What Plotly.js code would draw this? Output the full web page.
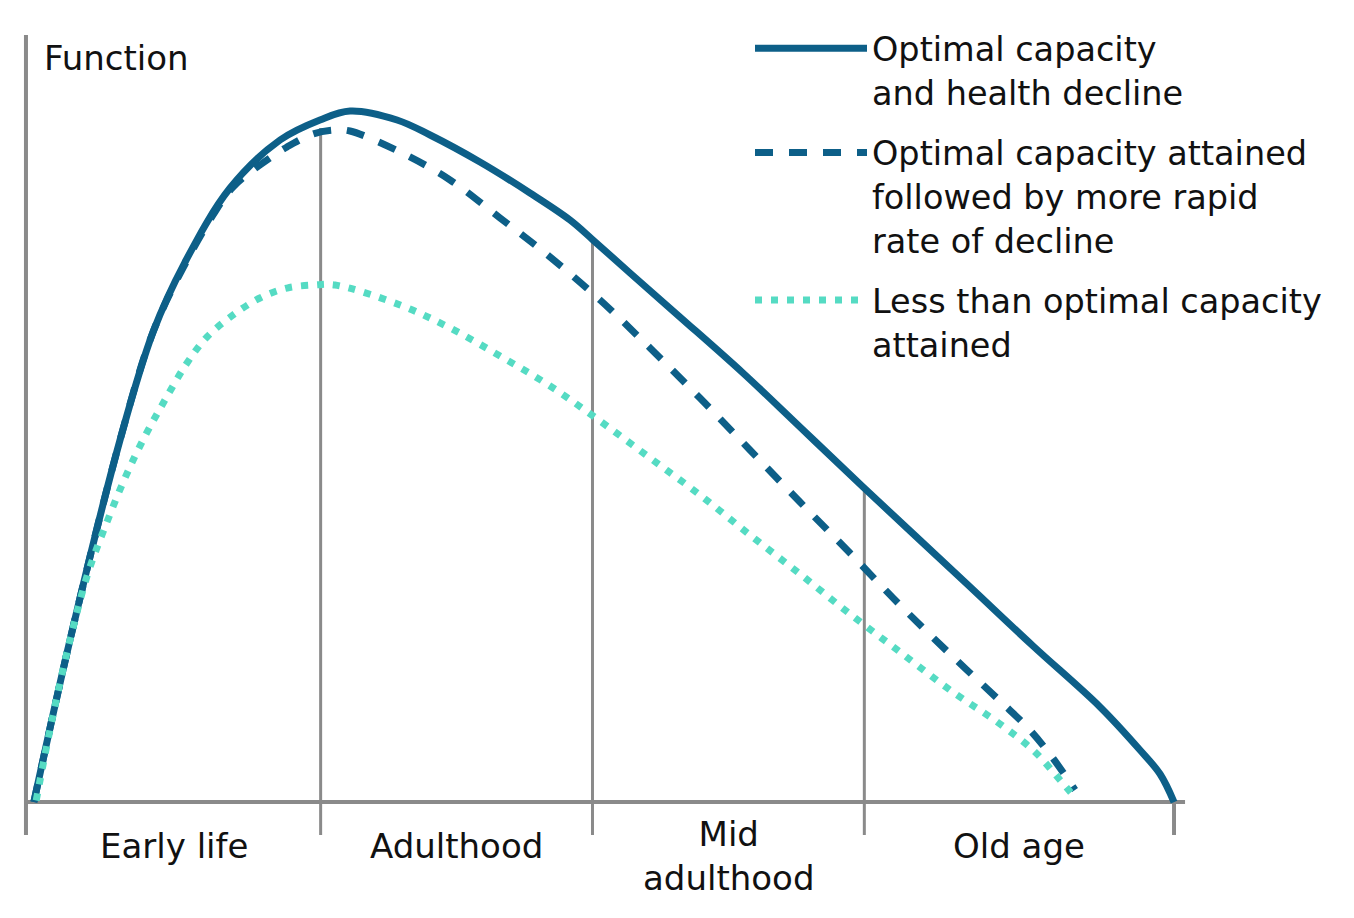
<!DOCTYPE html>
<html>
<head>
<meta charset="utf-8">
<script src="https://cdn.plot.ly/plotly-3.0.1.min.js"></script>
<style>
  html, body { margin: 0; padding: 0; background: #ffffff; }
  #chart { width: 1354px; height: 918px; }
</style>
</head>
<body>
<div id="chart"></div>
<script>
// ---- Data (life course on a 0–100 scale, function on a 0–100 scale) ----
var stageBoundaries = [0, 25.6, 49.3, 73.0, 100];
var stageLabels = ["Early life", "Adulthood", "Mid<br>adulthood", "Old age"];

var seriesNames = [
  "Optimal capacity<br>and health decline",
  "Optimal capacity attained<br>followed by more rapid<br>rate of decline",
  "Less than optimal capacity<br>attained"
];

var optimalX = [0.6, 3.75, 8.11, 10.99, 13.78, 17.70, 22.06, 25.54, 28.16, 32.26, 35.14, 39.49, 43.85, 47.34, 49.35,
  52.57, 56.93, 62.42, 67.39, 72.89, 81.95, 87.71, 93.55, 97.03, 98.78, 100];
var optimalY = [0, 21.12, 47.20, 61.28, 70.40, 80.05, 86.31, 88.92, 90.09, 88.92, 86.96, 83.44, 79.40, 75.88, 73.27,
  68.97, 63.23, 55.93, 48.89, 41.07, 28.42, 20.34, 12.39, 6.78, 3.65, 0];

var rapidX = [0.6, 3.75, 8.11, 10.99, 13.78, 16.22, 17.96, 20.31, 22.67, 24.93, 26.85, 28.16, 32.52, 36.88, 41.24,
  45.60, 49.96, 54.32, 58.67, 63.03, 67.39, 71.75, 76.11, 80.47, 84.83, 87.27, 89.36, 91.37];
var rapidY = [0, 21.12, 47.20, 61.28, 70.14, 76.53, 80.18, 83.05, 85.40, 87.09, 87.61, 87.48, 84.75, 81.10, 76.14,
  71.06, 65.45, 59.19, 52.67, 45.89, 39.11, 32.46, 25.68, 19.30, 13.17, 9.65, 5.87, 1.56];

var lessX = [0.8, 2.18, 3.75, 5.32, 6.80, 8.54, 10.29, 12.03, 13.95, 15.69, 17.96, 20.31, 22.67, 25.11, 26.85,
  32.52, 36.88, 41.24, 45.60, 49.96, 54.32, 58.67, 63.03, 67.39, 71.75, 76.11, 80.47, 84.83, 87.88, 90.06, 91.19];
var lessY = [0.2, 10.69, 21.12, 29.86, 35.85, 42.24, 47.72, 52.41, 57.24, 60.63, 63.49, 65.71, 67.01, 67.41, 67.41,
  64.80, 61.80, 58.15, 54.24, 49.67, 44.85, 40.03, 34.81, 29.73, 24.51, 19.56, 14.60, 10.17, 6.52, 2.87, 0.91];

var yAxisTitle = "Function";

(function () {
  var FONT = "DejaVu Sans";
  var FSIZE = 34;
  var LSIZE = 33.5;
  var DARK = "#0d5f88";
  var TEAL = "#55dbc3";
  var GRAY = "#8a8a8a";
  var TXT = "#111111";

  function interp(xs, ys, x) {
    for (var i = 0; i < xs.length - 1; i++) {
      if (x >= xs[i] && x <= xs[i + 1]) {
        var t = (x - xs[i]) / (xs[i + 1] - xs[i]);
        return ys[i] + t * (ys[i + 1] - ys[i]);
      }
    }
    return 0;
  }

  var traces = [
    { x: optimalX, y: optimalY, name: seriesNames[0], legendgroup: "a",
      mode: "lines", line: { color: DARK, width: 7, shape: "spline", smoothing: 1 } },
    { x: rapidX, y: rapidY, name: seriesNames[1], legendgroup: "b",
      mode: "lines", line: { color: DARK, width: 7, dash: "18px,16px", shape: "spline", smoothing: 1 } },
    { x: lessX, y: lessY, name: seriesNames[2], legendgroup: "c",
      mode: "lines", line: { color: TEAL, width: 7, dash: "7px,9px", shape: "spline", smoothing: 1 } }
  ];

  var yBelow = -4.3;
  var shapes = [];
  shapes.push({ type: "line", xref: "x", yref: "y", x0: -0.26, x1: 100.96, y0: 0, y1: 0,
    line: { color: GRAY, width: 4 }, layer: "below" });
  shapes.push({ type: "line", xref: "x", yref: "y", x0: -0.09, x1: -0.09, y0: yBelow, y1: 100,
    line: { color: GRAY, width: 4 }, layer: "below" });
  for (var i = 1; i < stageBoundaries.length; i++) {
    var b = stageBoundaries[i];
    var yTop;
    if (i === 1) yTop = interp(rapidX, rapidY, b) + 0.6;
    else if (i === stageBoundaries.length - 1) yTop = 0;
    else yTop = interp(optimalX, optimalY, b);
    shapes.push({ type: "line", xref: "x", yref: "y", x0: b, x1: b, y0: yBelow, y1: yTop,
      line: { color: GRAY, width: i === stageBoundaries.length - 1 ? 4 : 3 }, layer: "below" });
  }

  var annotations = [];
  for (var k = 0; k < stageLabels.length; k++) {
    var mid = (stageBoundaries[k] + stageBoundaries[k + 1]) / 2;
    var twoLine = stageLabels[k].indexOf("<br>") >= 0;
    annotations.push({ xref: "x", yref: "paper", x: mid, y: twoLine ? (918 - 856) / 918 : (918 - 846) / 918,
      text: stageLabels[k], showarrow: false, xanchor: "center", yanchor: "middle",
      font: { family: FONT, size: FSIZE, color: TXT } });
  }
  annotations.push({ xref: "paper", yref: "paper", x: 42 / 1354, y: (918 - 58) / 918,
    text: yAxisTitle, showarrow: false, xanchor: "left", yanchor: "middle",
    font: { family: FONT, size: FSIZE, color: TXT } });

  var layout = {
    width: 1354, height: 918, autosize: false,
    margin: { l: 0, r: 0, t: 0, b: 0 },
    paper_bgcolor: "#ffffff", plot_bgcolor: "#ffffff",
    xaxis: { range: [-2.354, 115.69], showgrid: false, zeroline: false, showline: false,
      showticklabels: false, ticks: "" },
    yaxis: { range: [-15.12, 104.56], showgrid: false, zeroline: false, showline: false,
      showticklabels: false, ticks: "" },
    showlegend: true,
    legend: { x: 750 / 1354, y: (918 - 20) / 918, xanchor: "left", yanchor: "top",
      bgcolor: "rgba(0,0,0,0)", borderwidth: 0, itemwidth: 112, valign: "top",
      tracegroupgap: 14, traceorder: "grouped",
      font: { family: FONT, size: LSIZE, color: TXT } },
    shapes: shapes,
    annotations: annotations
  };

  Plotly.newPlot("chart", traces, layout, { displayModeBar: false });
})();
</script>
</body>
</html>
